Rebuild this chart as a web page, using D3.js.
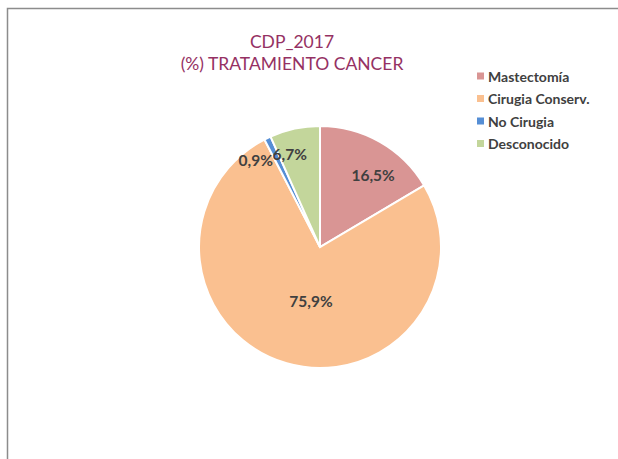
<!DOCTYPE html>
<html>
<head>
<meta charset="utf-8">
<script src="https://cdn.jsdelivr.net/npm/d3@7"></script>
<style>
  body { margin: 0; background: #fff; }
  svg { display: block; }
</style>
</head>
<body>
<svg id="chart"></svg>
<script>
const categories = ["Mastectomía", "Cirugia Conserv.", "No Cirugia", "Desconocido"];
const values = [16.5, 75.9, 0.9, 6.7];
const colors = ["#D99594", "#FAC090", "#558ED5", "#C3D69B"];
const titleLines = ["CDP_2017", "(%) TRATAMIENTO CANCER"];

const width = 618, height = 459;
const cx = 320, cy = 247, radius = 121;

const svg = d3.select("#chart")
  .attr("width", width)
  .attr("height", height);

// frame (only top and left edges visible in the crop)
svg.append("path")
  .attr("d", `M7.5,${height} V8.5 H${width}`)
  .attr("fill", "none")
  .attr("stroke", "#8c8c8c")
  .attr("stroke-width", 1.5);

// title
svg.append("g")
  .selectAll("text")
  .data(titleLines)
  .join("text")
  .attr("x", 292)
  .attr("y", (d, i) => 48 + i * 22)
  .attr("text-anchor", "middle")
  .attr("font-family", "Lato, 'Open Sans', sans-serif")
  .attr("font-size", 17.5)
  .attr("fill", "#953163")
  .text(d => d);

const color = d3.scaleOrdinal(categories, colors);

const pie = d3.pie()
  .sort(null)
  .value((d, i) => values[i]);

const arcs = pie(categories);

const arc = d3.arc()
  .innerRadius(0)
  .outerRadius(radius);

const g = svg.append("g")
  .attr("transform", `translate(${cx},${cy})`);

g.selectAll("path")
  .data(arcs)
  .join("path")
  .attr("d", arc)
  .attr("fill", d => color(d.data))
  .attr("stroke", "#fff")
  .attr("stroke-width", 2);

// Excel "best fit" labels: radius factor along slice mid-angle, plus a small nudge
const labelPlace = {
  "Mastectomía": {r: 0.72, dx: 10, dy: 4},
  "Cirugia Conserv.": {r: 0.45, dx: 6, dy: 2},
  "No Cirugia": {r: 0.88, dx: -18, dy: 9},
  "Desconocido": {r: 0.80, dx: -10, dy: 2}
};

const fmt = v => d3.format(".1f")(v).replace(".", ",") + "%";

g.selectAll("text")
  .data(arcs)
  .join("text")
  .attr("transform", d => {
    const p = labelPlace[d.data];
    const a = (d.startAngle + d.endAngle) / 2;
    const x = Math.sin(a) * radius * p.r + p.dx;
    const y = -Math.cos(a) * radius * p.r + p.dy;
    return `translate(${x},${y})`;
  })
  .attr("text-anchor", "middle")
  .attr("dominant-baseline", "central")
  .attr("font-family", "Lato, 'Open Sans', sans-serif")
  .attr("font-weight", "bold")
  .attr("font-size", 15.5)
  .attr("fill", "#404040")
  .text(d => fmt(values[d.index]));

// legend
const legend = svg.append("g")
  .attr("transform", "translate(477,76)");

const rows = legend.selectAll("g")
  .data(categories)
  .join("g")
  .attr("transform", (d, i) => `translate(0,${i * 22.5})`);

rows.append("rect")
  .attr("x", 0)
  .attr("y", -3.5)
  .attr("width", 7)
  .attr("height", 7)
  .attr("fill", d => color(d));

rows.append("text")
  .attr("x", 11)
  .attr("y", 0)
  .attr("dominant-baseline", "central")
  .attr("font-family", "Lato, 'Open Sans', sans-serif")
  .attr("font-weight", "bold")
  .attr("font-size", 14)
  .attr("fill", "#404040")
  .text(d => d);
</script>
</body>
</html>
